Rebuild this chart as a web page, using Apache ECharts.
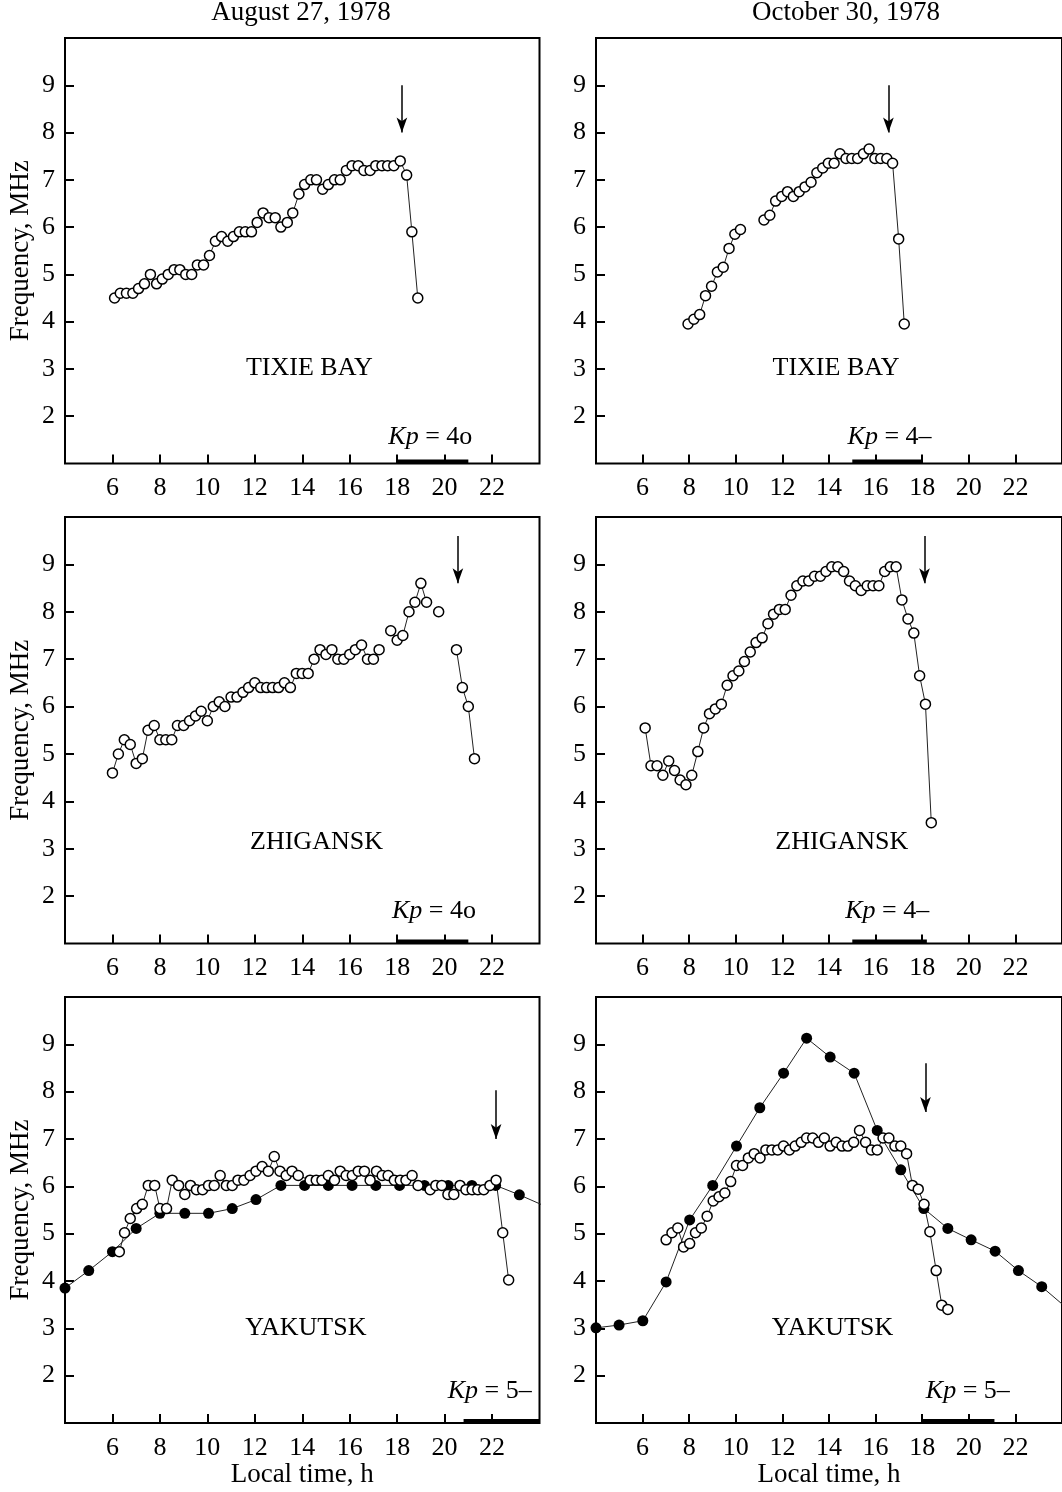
<!DOCTYPE html>
<html>
<head>
<meta charset="utf-8">
<script src="https://cdn.jsdelivr.net/npm/echarts@6/dist/echarts.min.js"></script>
<style>
  html, body { margin: 0; background: #fff; }
  #chart { width: 1062px; height: 1492px; }
</style>
</head>
<body>
<div id="chart"></div>
<script>
// ---------- data (local time, h / frequency, MHz) ----------
const xTicks = [6, 8, 10, 12, 14, 16, 18, 20, 22];
const yTicks = [2, 3, 4, 5, 6, 7, 8, 9];
const dates = ['August 27, 1978', 'October 30, 1978'];
const stations = ['TIXIE BAY', 'ZHIGANSK', 'YAKUTSK'];

// Tixie Bay
const tixieAugT = [6.09, 6.33, 6.59, 6.86, 7.1, 7.35, 7.6, 7.86, 8.1, 8.35, 8.6, 8.84, 9.09, 9.34, 9.58, 9.84, 10.09, 10.34, 10.6, 10.86, 11.1, 11.35, 11.6, 11.86, 12.1, 12.35, 12.6, 12.86, 13.1, 13.37, 13.6, 13.86, 14.1, 14.36, 14.6, 14.86, 15.1, 15.36, 15.6, 15.86, 16.1, 16.36, 16.6, 16.86, 17.1, 17.36, 17.6, 17.86, 18.13, 18.4, 18.62, 18.87];
const tixieAugF = [4.5, 4.6, 4.6, 4.6, 4.7, 4.8, 5.0, 4.8, 4.9, 5.0, 5.1, 5.1, 5.0, 5.0, 5.2, 5.2, 5.4, 5.7, 5.8, 5.7, 5.8, 5.9, 5.9, 5.9, 6.1, 6.3, 6.2, 6.2, 6.0, 6.1, 6.3, 6.7, 6.9, 7.0, 7.0, 6.8, 6.9, 7.0, 7.0, 7.2, 7.3, 7.3, 7.2, 7.2, 7.3, 7.3, 7.3, 7.3, 7.4, 7.1, 5.9, 4.5];
const tixieOctT = [7.95, 8.2, 8.45, 8.7, 8.96, 9.21, 9.46, 9.71, 9.96, 10.2, 10.7, 11.21, 11.46, 11.71, 11.97, 12.22, 12.47, 12.72, 12.97, 13.23, 13.48, 13.73, 13.97, 14.22, 14.47, 14.73, 14.98, 15.23, 15.48, 15.72, 15.97, 16.22, 16.48, 16.73, 16.99, 17.23];
const tixieOctF = [3.95, 4.05, 4.15, 4.55, 4.75, 5.05, 5.15, 5.55, 5.85, 5.95, null, 6.15, 6.25, 6.55, 6.65, 6.75, 6.65, 6.75, 6.85, 6.95, 7.15, 7.25, 7.35, 7.35, 7.55, 7.45, 7.45, 7.45, 7.55, 7.65, 7.45, 7.45, 7.45, 7.35, 5.75, 3.95];

// Zhigansk
const zhigAugT = [6.0, 6.25, 6.5, 6.75, 7.0, 7.26, 7.5, 7.76, 8.0, 8.25, 8.5, 8.74, 9.0, 9.25, 9.5, 9.74, 10.0, 10.25, 10.5, 10.74, 11.0, 11.25, 11.5, 11.74, 12.0, 12.25, 12.5, 12.75, 13.0, 13.25, 13.5, 13.75, 14.0, 14.25, 14.5, 14.75, 15.0, 15.25, 15.5, 15.75, 16.0, 16.24, 16.5, 16.75, 17.0, 17.24, 17.5, 17.73, 18.0, 18.24, 18.5, 18.75, 19.0, 19.24, 19.5, 19.75, 20.1, 20.5, 20.75, 21.0, 21.26];
const zhigAugF = [4.6, 5.0, 5.3, 5.2, 4.8, 4.9, 5.5, 5.6, 5.3, 5.3, 5.3, 5.6, 5.6, 5.7, 5.8, 5.9, 5.7, 6.0, 6.1, 6.0, 6.2, 6.2, 6.3, 6.4, 6.5, 6.4, 6.4, 6.4, 6.4, 6.5, 6.4, 6.7, 6.7, 6.7, 7.0, 7.2, 7.1, 7.2, 7.0, 7.0, 7.1, 7.2, 7.3, 7.0, 7.0, 7.2, null, 7.6, 7.4, 7.5, 8.0, 8.2, 8.6, 8.2, null, 8.0, null, 7.2, 6.4, 6.0, 4.9];
const zhigOctT = [6.11, 6.36, 6.62, 6.87, 7.12, 7.37, 7.61, 7.86, 8.11, 8.37, 8.62, 8.87, 9.12, 9.38, 9.63, 9.88, 10.13, 10.37, 10.62, 10.87, 11.13, 11.38, 11.62, 11.87, 12.12, 12.37, 12.62, 12.88, 13.13, 13.38, 13.63, 13.87, 14.12, 14.38, 14.63, 14.88, 15.13, 15.38, 15.64, 15.89, 16.14, 16.39, 16.63, 16.88, 17.13, 17.39, 17.64, 17.89, 18.14, 18.39];
const zhigOctF = [5.55, 4.75, 4.75, 4.55, 4.85, 4.65, 4.45, 4.35, 4.55, 5.05, 5.55, 5.85, 5.95, 6.05, 6.45, 6.65, 6.75, 6.95, 7.15, 7.35, 7.45, 7.75, 7.95, 8.05, 8.05, 8.35, 8.55, 8.65, 8.65, 8.75, 8.75, 8.85, 8.95, 8.95, 8.85, 8.65, 8.55, 8.45, 8.55, 8.55, 8.55, 8.85, 8.95, 8.95, 8.25, 7.85, 7.55, 6.65, 6.05, 3.55];

// Yakutsk: filled dots (hourly) and open circles
const yakAugDotT = [4.0, 5.0, 6.0, 7.0, 8.0, 9.05, 10.05, 11.05, 12.05, 13.1, 14.1, 15.1, 16.1, 17.1, 18.1, 19.15, 20.15, 21.15, 22.15, 23.15, 24.15];
const yakAugDotF = [3.85, 4.22, 4.62, 5.11, 5.43, 5.43, 5.43, 5.53, 5.72, 6.02, 6.02, 6.02, 6.02, 6.02, 6.02, 6.02, 6.02, 6.02, 6.02, 5.82, 5.6];
const yakAugOpenT = [6.29, 6.51, 6.75, 7.02, 7.26, 7.51, 7.78, 8.0, 8.28, 8.52, 8.79, 9.05, 9.29, 9.54, 9.8, 10.05, 10.29, 10.54, 10.8, 11.05, 11.29, 11.54, 11.8, 12.05, 12.31, 12.57, 12.82, 13.06, 13.32, 13.57, 13.83, 14.33, 14.59, 14.83, 15.1, 15.36, 15.6, 15.85, 16.11, 16.36, 16.62, 16.86, 17.13, 17.37, 17.62, 17.88, 18.13, 18.37, 18.63, 18.88, 19.39, 19.63, 19.88, 20.14, 20.39, 20.65, 20.9, 21.16, 21.4, 21.65, 21.91, 22.17, 22.45, 22.7];
const yakAugOpenF = [4.62, 5.02, 5.32, 5.53, 5.62, 6.02, 6.02, 5.53, 5.53, 6.13, 6.02, 5.83, 6.02, 5.93, 5.93, 6.02, 6.02, 6.23, 6.02, 6.02, 6.13, 6.13, 6.23, 6.32, 6.42, 6.32, 6.63, 6.32, 6.23, 6.32, 6.23, 6.13, 6.13, 6.13, 6.23, 6.13, 6.32, 6.23, 6.23, 6.32, 6.32, 6.13, 6.32, 6.23, 6.23, 6.13, 6.13, 6.13, 6.23, 6.02, 5.93, 6.02, 6.02, 5.83, 5.83, 6.02, 5.93, 5.93, 5.93, 5.93, 6.02, 6.13, 5.02, 4.02];
const yakOctDotT = [4.0, 4.99, 6.01, 7.01, 8.02, 9.01, 10.03, 11.03, 12.05, 13.04, 14.05, 15.08, 16.07, 17.08, 18.07, 19.1, 20.1, 21.13, 22.13, 23.13, 24.13];
const yakOctDotF = [3.01, 3.07, 3.16, 3.98, 5.29, 6.02, 6.85, 7.66, 8.39, 9.13, 8.73, 8.39, 7.18, 6.35, 5.53, 5.11, 4.87, 4.63, 4.22, 3.88, 3.46];
const yakOctOpenT = [7.01, 7.26, 7.51, 7.76, 8.02, 8.27, 8.52, 8.77, 9.03, 9.28, 9.53, 9.78, 10.03, 10.29, 10.54, 10.79, 11.04, 11.29, 11.55, 11.8, 12.05, 12.3, 12.55, 12.81, 13.04, 13.3, 13.55, 13.8, 14.05, 14.31, 14.56, 14.81, 15.06, 15.31, 15.57, 15.82, 16.07, 16.32, 16.57, 16.83, 17.08, 17.33, 17.58, 17.83, 18.08, 18.33, 18.6, 18.84, 19.1];
const yakOctOpenF = [4.87, 5.02, 5.12, 4.72, 4.79, 5.02, 5.12, 5.37, 5.69, 5.78, 5.86, 6.1, 6.44, 6.44, 6.6, 6.69, 6.6, 6.77, 6.77, 6.77, 6.85, 6.77, 6.85, 6.93, 7.02, 7.02, 6.93, 7.02, 6.85, 6.93, 6.85, 6.85, 6.93, 7.18, 6.93, 6.77, 6.77, 7.02, 7.02, 6.85, 6.85, 6.69, 6.02, 5.94, 5.62, 5.04, 4.22, 3.49, 3.4];

// Kp index and its interval, arrow times (panel order: row by row, Aug then Oct)
const kpValues = ['4o', '4–', '4o', '4–', '5–', '5–'];
const kpStart = [18, 15, 18, 15, 20.8, 18];
const kpEnd = [21, 18, 21, 18.2, 24, 21.1];
const arrowT = [18.2, 16.55, 20.56, 18.1, 22.17, 18.14];
const arrowFrom = [9.0, 9.0, 9.6, 9.6, 8.03, 8.6];
const arrowTo = [8.0, 8.0, 8.6, 8.6, 7.0, 7.57];

// ---------- layout ----------
const FONT = "'Liberation Serif', 'Times New Roman', serif";
const colLeft = [65, 596];
const colWidth = [474.5, 474];
const rowTop = [38, 517, 997];
const rowHeight = [425.5, 426.5, 426];
// label anchors per panel, in data units
const stationPos = [[14.3, 3.02], [14.3, 3.02], [14.6, 3.13], [14.55, 3.13], [14.15, 3.0], [14.15, 3.0]];
const kpPos = [[19.4, 1.55], [16.6, 1.55], [19.55, 1.68], [16.5, 1.68], [21.9, 1.68], [19.96, 1.68]];

const curves = [
  [{ t: tixieAugT, f: tixieAugF, dot: false }],
  [{ t: tixieOctT, f: tixieOctF, dot: false }],
  [{ t: zhigAugT, f: zhigAugF, dot: false }],
  [{ t: zhigOctT, f: zhigOctF, dot: false }],
  [{ t: yakAugDotT, f: yakAugDotF, dot: true }, { t: yakAugOpenT, f: yakAugOpenF, dot: false }],
  [{ t: yakOctDotT, f: yakOctDotF, dot: true }, { t: yakOctOpenT, f: yakOctOpenF, dot: false }]
];

const textStyle = { color: '#000', fontFamily: FONT, textBorderWidth: 0, opacity: 1 };
const grid = [], xAxis = [], yAxis = [], series = [];

curves.forEach((list, i) => {
  const row = Math.floor(i / 2), col = i % 2;
  grid.push({
    left: colLeft[col], top: rowTop[row], width: colWidth[col], height: rowHeight[row],
    show: true, borderColor: '#000', borderWidth: 2, containLabel: false
  });
  xAxis.push({
    gridIndex: i, type: 'value', min: 4, max: 24,
    axisLine: { show: false }, splitLine: { show: false },
    axisTick: { inside: true, length: 9, customValues: xTicks, lineStyle: { color: '#000', width: 2 } },
    axisLabel: { customValues: xTicks, color: '#000', fontSize: 26, fontFamily: FONT, margin: 12 },
    name: row === 2 ? 'Local time, h' : '', nameLocation: 'middle', nameGap: 36,
    nameTextStyle: { color: '#000', fontSize: 27, fontFamily: FONT }
  });
  yAxis.push({
    gridIndex: i, type: 'value', min: 1, max: 10,
    axisLine: { show: false }, splitLine: { show: false },
    axisTick: { inside: true, length: 9, customValues: yTicks, lineStyle: { color: '#000', width: 2 } },
    axisLabel: { customValues: yTicks, color: '#000', fontSize: 26, fontFamily: FONT, margin: 10 },
    name: col === 0 ? 'Frequency, MHz' : '', nameLocation: 'middle', nameGap: 31,
    nameTextStyle: { color: '#000', fontSize: 27, fontFamily: FONT }
  });

  list.forEach(c => {
    series.push({
      type: 'line', xAxisIndex: i, yAxisIndex: i,
      data: c.t.map((x, k) => [x, c.f[k] === null ? '-' : c.f[k]]),
      symbol: 'circle', symbolSize: c.dot ? 11 : 10,
      itemStyle: c.dot ? { color: '#000' } : { color: '#fff', borderColor: '#000', borderWidth: 1.5 },
      lineStyle: { color: '#222', width: 1 },
      silent: true
    });
  });

  // Kp interval bar on the time axis, with the arrow attached as markLine
  series.push({
    type: 'line', xAxisIndex: i, yAxisIndex: i,
    data: [[kpStart[i], 1.04], [kpEnd[i], 1.04]],
    symbol: 'none', lineStyle: { color: '#000', width: 4 }, silent: true,
    markLine: {
      silent: true, symbol: ['none', 'arrow'], symbolSize: [8, 15],
      label: { show: false },
      lineStyle: { color: '#000', width: 1.5, type: 'solid' },
      data: [[{ coord: [arrowT[i], arrowFrom[i]] }, { coord: [arrowT[i], arrowTo[i]] }]]
    }
  });

  // station name and Kp text
  series.push({
    type: 'scatter', xAxisIndex: i, yAxisIndex: i, symbolSize: 0, silent: true,
    itemStyle: { opacity: 1 },
    data: [stationPos[i]],
    label: Object.assign({ show: true, position: 'inside', formatter: stations[row], fontSize: 26 }, textStyle)
  });
  series.push({
    type: 'scatter', xAxisIndex: i, yAxisIndex: i, symbolSize: 0, silent: true,
    itemStyle: { opacity: 1 },
    data: [kpPos[i]],
    label: Object.assign({
      show: true, position: 'inside', formatter: '{k|Kp} = ' + kpValues[i], fontSize: 26,
      rich: { k: Object.assign({ fontStyle: 'italic', fontSize: 26 }, textStyle) }
    }, textStyle)
  });
});

const chart = echarts.init(document.getElementById('chart'));
chart.setOption({
  animation: false,
  backgroundColor: '#fff',
  grid, xAxis, yAxis, series,
  graphic: dates.map((d, k) => ({
    type: 'text', x: [301, 846][k], y: 13,
    style: { text: d, fontSize: 27, fontFamily: FONT, fill: '#000', textAlign: 'center', textVerticalAlign: 'middle' }
  }))
});
</script>
</body>
</html>
